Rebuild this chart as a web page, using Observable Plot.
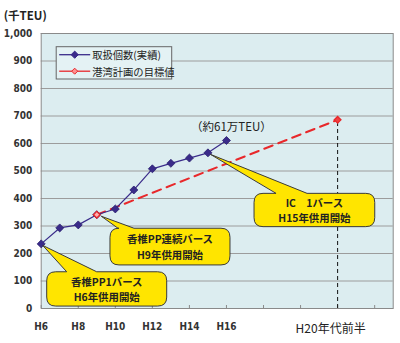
<!DOCTYPE html>
<html><head><meta charset="utf-8">
<script src="https://cdn.jsdelivr.net/npm/d3@7"></script>
<script src="https://cdn.jsdelivr.net/npm/@observablehq/plot@0.6"></script>
<style>
html,body{margin:0;padding:0;background:#fff;}
#chart svg{display:block;}
</style>
</head><body><div id="chart"></div>
<script>
// ---- data ----
const years = [6, 7, 8, 9, 10, 11, 12, 13, 14, 15, 16];
const actual = [235, 293, 304, 341, 362, 431, 508, 528, 547, 566, 611];
const targetYears = [9, 22];
const targetValues = [341, 686];
const yTicks = [0, 100, 200, 300, 400, 500, 600, 700, 800, 900, 1000];
const xTicks = [6, 8, 10, 12, 14, 16, 18, 20, 22, 24];
const xLabelTicks = [6, 8, 10, 12, 14, 16];
const xLabelFar = [22];
const xLabelFarText = ["H20年代前半"];
const unitText = ["(千TEU)"];
const lastLabel = ["（約61万TEU）"];
const seriesNames = ["取扱個数(実績)", "港湾計画の目標値"];
const calloutYears = [6, 9, 15];
const calloutLines = [
  ["香椎PP1バース", "H6年供用開始"],
  ["香椎PP連続バース", "H9年供用開始"],
  ["IC　1バース", "H15年供用開始"]
];

const actualData = years.map((y, i) => ({year: y, value: actual[i]}));
const targetData = targetYears.map((y, i) => ({year: y, value: targetValues[i]}));
const valueAt = y => actualData.find(d => d.year === y).value;

// ---- styles ----
const NAVY = "#3a2b8a", RED = "#e8282b", YELLOW = "#ffe500";
const NUMFONT = "'Liberation Sans Narrow','DejaVu Sans Condensed',Arial,sans-serif";
const JPFONT = "'Noto Sans CJK JP','Noto Sans',sans-serif";
const ML = 40.7, MR = 7.3, MT = 33, MB = 35;
// callout box geometry (pixels, relative to the anchor point)
const calloutBox = [
  {dx: 6, dy: 28.4, w: 120, h: 34.3, b1: 20, b2: 50, tx: 2, ty: 2},
  {dx: 13.7, dy: 14, w: 120, h: 36.7, b1: 8, b2: 24, tx: 5, ty: 2},
  {dx: 46.6, dy: 41, w: 120.7, h: 33.3, b1: 22, b2: 53, tx: 3, ty: 2}
];

function callouts(index, scales) {
  const g = d3.create("svg:g");
  calloutYears.forEach((yr, i) => {
    const ax = scales.x(yr), ay = scales.y(valueAt(yr));
    const b = calloutBox[i];
    const x = ax + b.dx, y = ay + b.dy, w = b.w, h = b.h, r = 9;
    const tx = ax + b.tx, ty = ay + b.ty;
    const p = `M${x + r},${y}L${x + b.b1},${y}L${tx},${ty}L${x + b.b2},${y}L${x + w - r},${y}Q${x + w},${y} ${x + w},${y + r}L${x + w},${y + h - r}Q${x + w},${y + h} ${x + w - r},${y + h}L${x + r},${y + h}Q${x},${y + h} ${x},${y + h - r}L${x},${y + r}Q${x},${y} ${x + r},${y}Z`;
    g.append("path").attr("d", p).attr("fill", YELLOW).attr("stroke", "#3a3a3a").attr("stroke-width", 1);
    calloutLines[i].forEach((t, j) => {
      g.append("text").attr("x", x + w / 2).attr("y", y + h / 2 + (j - 0.5) * 15.2)
        .attr("text-anchor", "middle").attr("dominant-baseline", "central")
        .attr("font-family", JPFONT).attr("font-size", 10.4).attr("font-weight", "bold")
        .attr("fill", "#222").text(t);
    });
  });
  return g.node();
}

function legend() {
  const g = d3.create("svg:g");
  const x0 = ML + 15.5, y0 = MT + 13.7;
  g.append("rect").attr("x", x0).attr("y", y0).attr("width", 115.5).attr("height", 32.3)
    .attr("fill", "#e4f2f4").attr("stroke", "#666").attr("stroke-width", 1);
  const cols = [NAVY, RED];
  seriesNames.forEach((s, i) => {
    const cy = y0 + 8 + i * 16.5;
    g.append("line").attr("x1", x0 + 3).attr("x2", x0 + 34).attr("y1", cy).attr("y2", cy)
      .attr("stroke", cols[i]).attr("stroke-width", 1.3);
    const cx = x0 + 18.5, rr = i === 0 ? 3.6 : 3;
    g.append("path").attr("d", `M${cx},${cy - rr}L${cx + rr},${cy}L${cx},${cy + rr}L${cx - rr},${cy}Z`)
      .attr("fill", i === 0 ? NAVY : "#ff9090").attr("stroke", cols[i]).attr("stroke-width", 1);
    g.append("text").attr("x", x0 + 36).attr("y", cy).attr("dominant-baseline", "central")
      .attr("text-anchor", "start")
      .attr("font-family", JPFONT).attr("font-size", 10.3).attr("font-weight", "normal")
      .attr("fill", "#222").text(s);
  });
  return g.node();
}

const chart = Plot.plot({
  width: 400, height: 343,
  marginLeft: ML, marginRight: MR, marginTop: MT, marginBottom: MB,
  style: {background: "#fff", fontFamily: NUMFONT, fontSize: "10px", fontWeight: "bold", color: "#333"},
  x: {domain: [6, 25], ticks: xLabelTicks, tickSize: 0, tickPadding: 14, tickFormat: d => "H" + d, label: null},
  y: {domain: [0, 1000], ticks: yTicks, tickSize: 0, tickPadding: 9, tickFormat: d3.format(","), label: null},
  marks: [
    Plot.frame({fill: "#dcedf0", stroke: null}),
    Plot.ruleY(yTicks.slice(1), {stroke: "#9c9c9c", strokeWidth: 1}),
    Plot.frame({stroke: "#8a8a8a", fill: null}),
    Plot.tickX(xTicks, {x: d => d, insetTop: 272, stroke: "#8a8a8a"}),
    Plot.ruleX(targetData.slice(1), {x: "year", y1: 0, y2: "value", stroke: "#111", strokeDasharray: "4,3", strokeWidth: 1}),
    Plot.line(targetData, {x: "year", y: "value", stroke: RED, strokeWidth: 2, strokeDasharray: "9,6"}),
    Plot.line(actualData, {x: "year", y: "value", stroke: NAVY, strokeWidth: 1.2}),
    Plot.dot(actualData, {x: "year", y: "value", symbol: "diamond2", r: 3.6, fill: NAVY, stroke: "#2a1f6e", strokeWidth: 0.8}),
    Plot.dot(targetData, {x: "year", y: "value", symbol: "diamond2", r: 3, fill: (d, i) => i === 0 ? "#ffb0b0" : "#f04040", stroke: RED, strokeWidth: 1.3}),
    Plot.text(actualData.slice(-1), {x: "year", y: "value", text: () => lastLabel[0], dx: 5, dy: -13, fontFamily: JPFONT, fontSize: 11.5, fontWeight: "normal", fill: "#222"}),
    Plot.text(xLabelFar, {x: d => d, text: (d, i) => xLabelFarText[i], frameAnchor: "bottom", dy: 24, dx: -7, fontFamily: JPFONT, fontSize: 12, fontWeight: "normal", fill: "#222"}),
    Plot.text(unitText, {text: d => d, frameAnchor: "top-left", textAnchor: "start", dx: -37.5, dy: -21.3, fontFamily: JPFONT, fontSize: 11.5, fontWeight: "bold", fill: "#222"}),
    callouts,
    legend
  ]
});
document.getElementById("chart").appendChild(chart);
</script>
</body></html>
